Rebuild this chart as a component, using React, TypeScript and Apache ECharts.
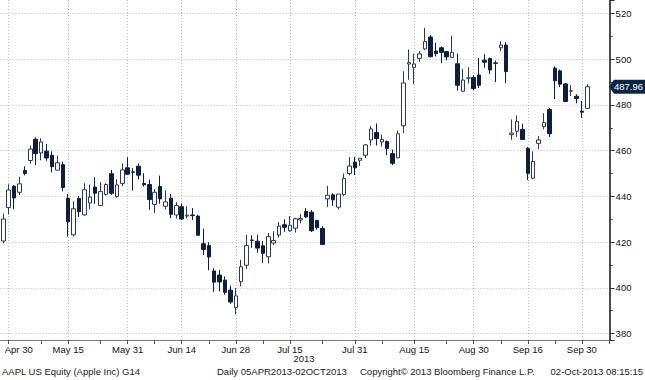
import { useEffect, useRef } from "react";
import * as echarts from "echarts";

const dates = [
  "04-29", "04-30",
  "05-01", "05-02", "05-03", "05-06", "05-07", "05-08", "05-09", "05-10", "05-13", "05-14", "05-15", "05-16", "05-17", "05-20", "05-21", "05-22", "05-23", "05-24", "05-28", "05-29", "05-30", "05-31",
  "06-03", "06-04", "06-05", "06-06", "06-07", "06-10", "06-11", "06-12", "06-13", "06-14", "06-17", "06-18", "06-19", "06-20", "06-21", "06-24", "06-25", "06-26", "06-27", "06-28",
  "07-01", "07-02", "07-03", "07-05", "07-08", "07-09", "07-10", "07-11", "07-12", "07-15", "07-16", "07-17", "07-18", "07-19", "07-22", "07-23", "07-24", "07-25", "07-26", "07-29", "07-30", "07-31",
  "08-01", "08-02", "08-05", "08-06", "08-07", "08-08", "08-09", "08-12", "08-13", "08-14", "08-15", "08-16", "08-19", "08-20", "08-21", "08-22", "08-23", "08-26", "08-27", "08-28", "08-29", "08-30",
  "09-03", "09-04", "09-05", "09-06", "09-09", "09-10", "09-11", "09-12", "09-13", "09-16", "09-17", "09-18", "09-19", "09-20", "09-23", "09-24", "09-25", "09-26", "09-27", "09-30",
  "10-01", "10-02", "10-03", "10-04", "10-07",
];

const opens = [
  420.5, 435.1, 444.5, 441.8, 451.3, 455.7, 465.0, 459.0, 459.8, 458.0, 451.5, 453.9, 439.2, 423.2, 439.1, 431.9, 437.1, 444.1, 436.0, 440.9, 449.9, 440.0, 445.7, 452.5,
  450.7, 453.2, 445.7, 445.2, 436.5, 444.3, 435.7, 439.2, 431.9, 435.5,
  431.4, 431.9, 431.4, 419.3, 418.5, 407.4, 405.6, 403.4, 399.0, 391.4,
  402.7, 409.9, 420.9, 420.4, 418.4, 413.6, 419.6, 423.1, 427.6, 425.0,
  426.1, 429.7, 433.4, 433.1, 429.5, 426.0, 438.9, 440.7, 435.3, 440.8,
  450.0, 455.0, 455.8, 458.0, 464.7, 468.0, 463.8, 464.0, 458.7, 456.9,
  470.9, 497.9, 496.4, 500.4, 504.5, 509.7, 503.6, 505.0, 503.3, 500.8,
  498.0, 486.0, 491.7, 492.0, 493.1, 499.6, 500.3, 498.4, 505.0, 506.2,
  467.0, 468.5, 469.3, 461.0, 448.0, 463.2, 470.5, 478.0, 496.1, 494.9,
  489.2, 486.0, 483.8, 477.3, 478.5,
];

const closes = [
  430.1, 442.8, 439.3, 445.5, 450.0, 460.7, 458.7, 463.8, 456.8, 453.0, 454.7, 443.9, 428.9, 434.6, 433.3, 442.9, 439.7, 441.4, 442.1, 445.2, 441.4, 445.0, 451.6, 449.7,
  450.6, 449.3, 445.1, 438.6, 441.8, 438.9, 437.6, 432.2, 436.0, 430.1,
  431.8, 431.6, 423.0, 416.8, 413.5, 402.5, 402.6, 398.1, 393.8, 396.5,
  409.2, 418.5, 420.8, 417.4, 415.1, 422.4, 420.7, 427.0, 426.5, 427.4,
  430.2, 430.3, 431.0, 425.0, 426.3, 419.0, 440.5, 438.5, 441.0, 447.8,
  453.3, 452.5, 456.7, 462.5, 469.5, 465.3, 465.0, 461.0, 454.5, 467.4,
  489.6, 498.5, 497.9, 502.3, 507.7, 501.1, 502.4, 503.0, 501.0, 503.0,
  488.6, 490.9, 491.8, 487.2, 488.6, 498.7, 495.3, 498.2, 506.2, 494.6,
  467.7, 472.7, 464.9, 450.1, 455.3, 464.7, 472.3, 467.4, 490.6, 489.1,
  481.5, 486.2, 482.8, 476.8, 487.96,
];

const lows = [
  419.5, 432.1, 434.4, 440.6, 449.2, 454.3, 453.7, 455.8, 455.6, 450.5, 451.5, 442.2, 422.4, 422.5, 431.0, 431.6, 434.4, 436.7, 435.8, 440.4, 440.7, 439.4, 444.5, 449.5,
  442.5, 447.4, 444.3, 434.2, 432.8, 436.8, 434.3, 430.5, 430.3, 429.7,
  430.4, 429.7, 422.7, 414.4, 407.7, 398.3, 398.5, 397.0, 393.0, 388.4,
  400.6, 408.3, 417.5, 415.4, 410.8, 410.7, 418.7, 422.0, 424.5, 424.6,
  424.2, 428.2, 430.6, 424.4, 425.5, 418.7, 435.3, 435.8, 434.3, 440.2,
  449.2, 449.4, 453.3, 456.7, 462.2, 462.2, 461.8, 458.0, 453.7, 456.7,
  467.7, 491.0, 489.1, 498.9, 504.0, 500.8, 501.2, 498.2, 499.5, 500.5,
  486.3, 486.0, 489.4, 486.5, 487.4, 496.3, 493.6, 490.0, 503.5, 489.5,
  464.8, 466.0, 464.7, 447.2, 447.5, 460.7, 469.4, 466.0, 482.6, 487.8,
  481.4, 483.9, 480.7, 474.4, 478.4,
];

const highs = [
  432.5, 445.3, 444.9, 448.6, 453.2, 462.2, 465.8, 465.4, 463.0, 459.7, 457.9, 455.2, 441.0, 437.9, 440.1, 445.8, 445.2, 448.4, 446.2, 445.7, 451.6, 447.5, 454.5, 457.1,
  452.4, 454.4, 450.2, 447.4, 443.2, 449.1, 442.7, 441.1, 437.5, 436.9,
  435.7, 434.9, 432.0, 425.9, 420.0, 408.6, 407.8, 405.0, 401.0, 400.0,
  412.3, 423.2, 423.0, 423.3, 420.5, 424.0, 424.8, 428.7, 430.0, 431.4,
  430.7, 432.2, 434.9, 434.0, 429.8, 427.0, 444.6, 441.4, 441.0, 450.0,
  457.2, 457.3, 456.8, 462.9, 470.7, 471.9, 467.0, 464.5, 460.5, 468.7,
  494.7, 504.3, 502.4, 503.6, 513.7, 510.6, 507.2, 505.6, 503.6, 510.2,
  502.5, 495.8, 496.5, 493.0, 500.6, 502.2, 500.7, 499.4, 507.9, 507.5,
  473.7, 475.4, 471.8, 461.6, 459.7, 466.4, 476.4, 478.6, 496.9, 495.5,
  489.6, 488.6, 484.7, 481.7, 489.1,
];

const labelDates = ["04-30", "05-15", "05-31", "06-14", "06-28", "07-15", "07-31", "08-15", "08-30", "09-16", "09-30"];
const minorTickDates = ["05-08", "05-23", "06-07", "06-21", "07-08", "07-23", "08-07", "08-23", "09-09", "09-23", "10-07"];
const monthNames = ["Jan", "Feb", "Mar", "Apr", "May", "Jun", "Jul", "Aug", "Sep", "Oct", "Nov", "Dec"];
const yearLabel = "2013";
const footerLeft = "AAPL US Equity (Apple Inc) G14";
const footerRange = "Daily 05APR2013-02OCT2013";
const footerCopy = "Copyright\u00A9 2013 Bloomberg Finance L.P.";
const footerStamp = "02-Oct-2013 08:15:15";

const FONT = "'Liberation Sans', Arial, sans-serif";
const DOWN = "#0c1f3f";
const UP_BORDER = "#2b3a52";

export default function App() {
  const ref = useRef<HTMLDivElement>(null);

  useEffect(() => {
    if (!ref.current) return;
    const chart = echarts.init(ref.current, null, { renderer: "svg" });

    const labelIdx = new Set(labelDates.map((d) => dates.indexOf(d)));
    const tickIdx = new Set([...labelDates, ...minorTickDates].map((d) => dates.indexOf(d)));
    const firstLabel = dates.indexOf(labelDates[0]);
    const ohlc = opens.map((o, i) => [o, closes[i], lows[i], highs[i]]);

    const fmtDate = (v: string) => {
      const [m, d] = v.split("-");
      return monthNames[parseInt(m, 10) - 1] + " " + d;
    };

    chart.setOption({
      animation: false,
      backgroundColor: "#ffffff",
      grid: { left: 0.6, top: 0, width: 611, bottom: 40, outerBoundsMode: "none" },
      xAxis: {
        type: "category",
        data: dates,
        boundaryGap: true,
        axisLine: { show: true, lineStyle: { color: "#7a7a7a", width: 1 } },
        axisTick: {
          show: true,
          alignWithLabel: true,
          length: 4,
          interval: (i: number) => tickIdx.has(i),
          lineStyle: { color: "#555555" },
        },
        axisLabel: {
          interval: (i: number) => labelIdx.has(i),
          formatter: (v: string, i: number) => (i === firstLabel ? "{a|" + fmtDate(v) + "}" : fmtDate(v)),
          color: "#111111",
          fontSize: 9.5,
          fontFamily: FONT,
          margin: 4,
          rich: { a: { padding: [0, 0, 0, 20], fontSize: 9.5, fontFamily: FONT, color: "#111111" } },
        },
        splitLine: {
          show: true,
          interval: (i: number) => labelIdx.has(i),
          alignWithLabel: true,
          lineStyle: { type: [1, 2], color: "#bdbdbd", width: 1 },
        },
      },
      yAxis: {
        type: "value",
        position: "right",
        min: 377.2,
        max: 525.9,
        splitNumber: 7,
        offset: -2,
        axisLine: { show: true, lineStyle: { color: "#4d4d4d", width: 2 } },
        axisTick: { show: true, length: 5, lineStyle: { color: "#333333" } },
        minorTick: { show: true, splitNumber: 2, length: 3, lineStyle: { color: "#333333" } },
        axisLabel: {
          showMinLabel: false,
          showMaxLabel: false,
          color: "#111111",
          fontSize: 9.5,
          fontFamily: FONT,
          margin: 6,
        },
        splitLine: {
          show: true,
          showMinLine: false,
          showMaxLine: false,
          lineStyle: { type: [1, 2], color: "#bdbdbd", width: 1 },
        },
      },
      series: [
        {
          type: "candlestick",
          data: ohlc,
          barWidth: 4,
          itemStyle: {
            color: "#ffffff",
            color0: DOWN,
            borderColor: UP_BORDER,
            borderColor0: DOWN,
            borderWidth: 1,
          },
        },
      ],
    });

    const last = closes[closes.length - 1];
    const py = chart.convertToPixel({ yAxisIndex: 0 }, last) as number;
    const ax = 609;
    const footerY = 371;
    const textStyle = (text: string, x: number, y: number, align: string, size = 9.5, fill = "#1a1a1a") => ({
      type: "text",
      x,
      y,
      style: { text, fill, fontSize: size, fontFamily: FONT, align, verticalAlign: "middle" },
    });

    chart.setOption({
      graphic: [
        {
          type: "polygon",
          shape: {
            points: [
              [ax, py],
              [ax + 5, py - 7],
              [645, py - 7],
              [645, py + 7],
              [ax + 5, py + 7],
            ],
          },
          style: { fill: "#0e2545" },
          z: 100,
        },
        { ...textStyle(last.toFixed(2), 614, py, "left", 9.5, "#ffffff"), z: 101 },
        textStyle(yearLabel, 304, 358.5, "center"),
        textStyle(footerLeft, 2, footerY, "left"),
        textStyle(footerRange, 217, footerY, "left"),
        textStyle(footerCopy, 360, footerY, "left"),
        textStyle(footerStamp, 643, footerY, "right"),
      ],
    });

    return () => chart.dispose();
  }, []);

  return <div ref={ref} style={{ position: "fixed", left: 0, top: 0, width: 645, height: 380 }} />;
}
